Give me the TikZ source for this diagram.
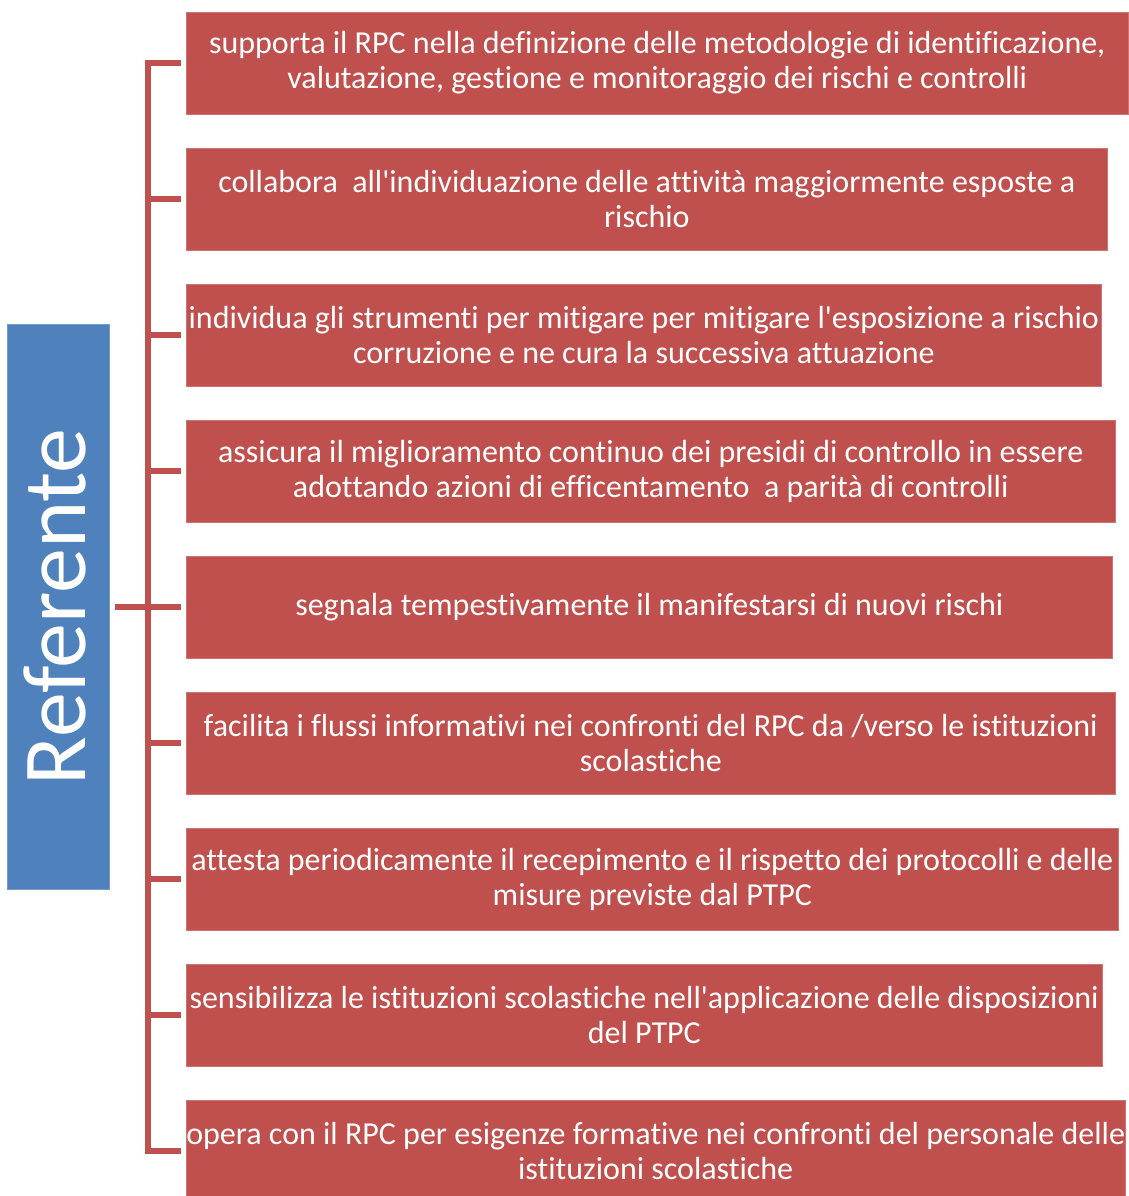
\documentclass[tikz,border=0pt]{standalone}
\usepackage{fontspec}
\newfontfamily\boxfont{Carlito}[Ligatures=NoCommon]
\usepackage{tikz}
\usetikzlibrary{positioning}

\definecolor{boxred}{RGB}{192,80,77}
\definecolor{boxblue}{RGB}{79,129,189}

\tikzset{
	duty/.style={fill=boxred, draw=boxred!80!white, line width=0.6pt, text=white, anchor=west,
		minimum height=102pt, inner sep=0pt, align=center,
		font=\boxfont\fontsize{32}{35}\selectfont},
	role/.style={fill=boxblue, draw=boxblue!80!white, line width=0.6pt, minimum width=102pt,
		minimum height=565pt, inner sep=0pt},
	bracket/.style={draw=boxred, line width=6pt}
}

\begin{document}
\begin{tikzpicture}[x=1pt, y=-1pt]
		\useasboundingbox (0,0) rectangle (1128,1196);

		% Referente
		\node[role] (ref) at (58, 607) {};
		\node[rotate=90, text=white, font=\boxfont\fontsize{90}{94}\selectfont] (reftext) at ([xshift=-3pt]ref.center) {Referente};

		% duties
		\node[duty, minimum width=942pt] (act1) at (186, 63) {supporta il RPC nella definizione delle metodologie di identificazione,\\valutazione, gestione e monitoraggio dei rischi e controlli};
		\node[duty, minimum width=921pt] (act2) at (186, 199) {collabora \ all'individuazione delle attività maggiormente esposte a\\rischio};
		\node[duty, minimum width=915pt] (act3) at (186, 335) {individua gli strumenti per mitigare per mitigare l'esposizione a rischio\\corruzione e ne cura la successiva attuazione};
		\node[duty, minimum width=929pt] (act4) at (186, 471) {assicura il miglioramento continuo dei presidi di controllo in essere\\adottando azioni di efficentamento \ a parità di controlli};
		\node[duty, minimum width=926pt] (act5) at (186, 607) {segnala tempestivamente il manifestarsi di nuovi rischi};
		\node[duty, minimum width=929pt] (act6) at (186, 743) {facilita i flussi informativi nei confronti del RPC da /verso le istituzioni\\scolastiche};
		\node[duty, minimum width=932pt] (act7) at (186, 879) {attesta periodicamente il recepimento e il rispetto dei protocolli e delle\\misure previste dal PTPC};
		\node[duty, minimum width=916pt] (act8) at (186, 1015) {sensibilizza le istituzioni scolastiche nell'applicazione delle disposizioni\\del PTPC};
		\node[duty, minimum width=938pt] (act9) at (186, 1151) {opera con il RPC per esigenze formative nei confronti del personale delle\\istituzioni scolastiche};

		% bracket
		\draw[bracket] ([xshift=-5pt]act1.west) -- ++(-33,0) |- ([xshift=-5pt]act9.west);
		\draw[bracket] ([xshift=-5pt]act2.west) -- ++(-35,0);
		\draw[bracket] ([xshift=-5pt]act3.west) -- ++(-35,0);
		\draw[bracket] ([xshift=-5pt]act4.west) -- ++(-35,0);
		\draw[bracket] ([xshift=-5pt]act5.west) -- ++(-35,0);
		\draw[bracket] ([xshift=-5pt]act6.west) -- ++(-35,0);
		\draw[bracket] ([xshift=-5pt]act7.west) -- ++(-35,0);
		\draw[bracket] ([xshift=-5pt]act8.west) -- ++(-35,0);
		\draw[bracket] ([xshift=6pt]ref.east) -- ([xshift=-38pt]act5.west);
	\end{tikzpicture}
\end{document}
